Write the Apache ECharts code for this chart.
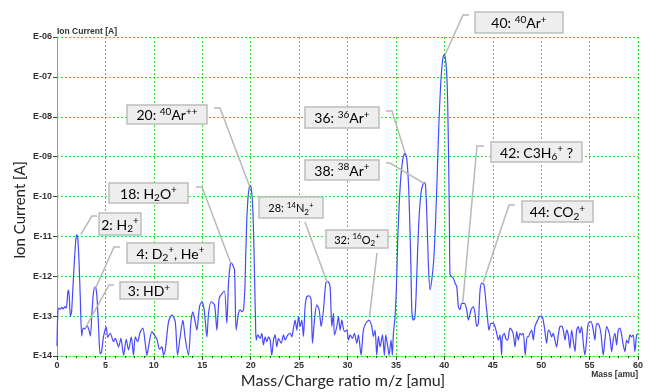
<!DOCTYPE html>
<html><head><meta charset="utf-8">
<script src="https://cdn.jsdelivr.net/npm/echarts@6/dist/echarts.min.js"></script>
<style>html,body{margin:0;padding:0;background:#fff}#c{width:650px;height:392px}</style>
</head><body><div id="c"></div>
<script>
// m/z values [amu]
const mz = [
0.00,0.08,0.2,0.35,0.5,0.65,0.8,0.95,1.05,1.15,1.25,1.38,1.5,1.62,1.75,1.88,1.98,2.06,2.15,2.27,2.4,2.55,2.7,2.85,3.0,3.15,3.3,3.45,3.6,3.75,3.9,4.02,4.15,4.3,4.45,4.6,4.75,4.9,
5.08,5.23,5.5,5.84,6.02,6.36,6.6,6.88,7.15,7.39,7.67,7.9,8.08,8.32,8.6,8.87,9.11,9.29,9.45,9.8,10.04,10.32,10.59,10.84,11.0,11.18,11.52,11.87,12.21,12.45,12.72,13.0,13.24,13.58,13.83,
14.03,14.27,14.45,14.72,14.96,15.2,15.48,15.65,15.92,16.27,16.51,16.75,17.09,17.3,17.54,17.71,17.89,18.0,18.12,18.33,18.5,18.74,18.92,19.09,19.26,19.4,19.5,19.6,19.72,19.85,19.95,
20.05,20.18,20.3,20.4,20.5,20.57,20.74,20.98,21.15,21.32,21.5,21.67,21.84,22.01,22.18,22.36,22.53,22.7,22.87,23.15,23.39,23.56,23.84,24.08,24.25,24.42,24.59,24.77,24.94,
25.11,25.28,25.45,25.62,25.8,26.04,26.24,26.38,26.59,26.83,27.07,27.28,27.52,27.76,27.97,28.2,28.38,28.55,28.65,28.9,29.06,29.24,29.41,29.68,29.93,30.1,30.27,30.51,30.71,30.96,
31.13,31.4,31.64,31.89,32.23,32.51,32.67,32.85,33.02,33.19,33.37,33.61,33.81,33.95,34.16,34.29,34.5,34.63,34.74,34.91,35.05,35.2,35.38,35.55,35.75,35.94,36.12,36.3,36.45,36.55,
36.65,36.8,36.95,37.08,37.25,37.42,37.6,37.78,37.93,38.05,38.2,38.35,38.52,38.7,38.9,39.1,39.3,39.45,39.6,39.75,39.88,39.97,40.08,40.22,40.34,40.45,40.53,40.59,40.93,41.1,
41.28,41.45,41.62,41.8,42.07,42.31,42.48,42.76,42.99,43.17,43.34,43.51,43.68,43.86,44.1,44.27,44.48,44.61,44.82,45.06,45.23,45.41,45.57,45.75,45.92,45.99,46.2,46.34,46.54,46.78,
46.96,47.13,47.3,47.47,47.64,47.81,47.99,48.16,48.35,48.55,48.67,48.84,49.02,49.19,49.36,49.64,49.88,50.11,50.32,50.57,50.74,50.91,51.08,51.25,51.42,51.6,51.77,51.94,52.12,52.28,
52.46,52.63,52.8,52.97,53.15,53.31,53.49,53.66,53.83,54.0,54.18,54.35,54.52,54.69,54.86,55.14,55.38,55.55,55.73,55.97,56.17,56.41,56.58,56.76,56.93,57.1,57.28,57.44,57.62,57.79,
57.96,58.13,58.31,58.47,58.65,58.82,58.99,59.16,59.34,59.51,59.68,59.86,60.0
];
// ion current, as log10 of amperes
const log10Current = [
-13.75,-12.95,-12.8,-12.83,-12.78,-12.82,-12.76,-12.8,-12.6,-12.35,-12.45,-13.0,-12.9,-12.4,-11.8,-11.3,-11.02,-10.96,-11.05,-11.6,-12.5,-13.5,-13.3,-13.32,-13.28,-13.25,-13.35,-13.5,-12.95,-12.45,-12.27,-12.3,-12.6,-13.3,-13.95,-13.9,-13.6,-13.4,
-13.27,-13.53,-13.43,-13.64,-13.56,-13.77,-13.56,-13.98,-13.58,-13.85,-13.52,-13.98,-13.52,-13.64,-13.39,-13.3,-13.68,-13.98,-13.77,-13.39,-13.47,-13.58,-13.83,-13.77,-13.98,-13.85,-13.14,-12.97,-13.14,-13.98,-13.52,-13.1,-13.56,-13.98,-13.14,
-12.89,-13.14,-13.35,-12.76,-12.64,-12.84,-13.52,-12.93,-12.64,-12.72,-13.35,-12.55,-12.42,-12.38,-13.18,-12.17,-11.71,-11.67,-11.7,-11.84,-13.35,-12.93,-12.84,-12.89,-12.84,-12.3,-11.4,-10.6,-10.05,-9.78,-9.72,
-9.78,-10.1,-10.9,-12.0,-13.1,-13.6,-13.47,-13.56,-13.43,-13.72,-13.52,-13.64,-13.52,-13.6,-13.98,-13.6,-13.47,-13.77,-13.56,-13.68,-13.47,-13.6,-13.47,-13.43,-13.52,-13.3,-13.1,-13.35,-13.01,
-13.26,-13.1,-13.51,-12.76,-12.51,-12.49,-12.59,-13.68,-13.1,-12.72,-12.84,-13.26,-12.84,-12.17,-12.13,-12.26,-13.26,-12.93,-13.47,-13.26,-13.01,-13.35,-13.1,-13.39,-13.35,-13.6,-13.47,-13.56,-13.43,-13.68,
-13.47,-13.98,-13.35,-13.18,-13.1,-13.26,-13.51,-13.35,-13.98,-13.51,-13.77,-13.47,-13.98,-13.47,-13.77,-13.98,-13.6,-13.98,-13.43,-13.01,-12.3,-11.0,-10.0,-9.4,-9.02,-8.91,-9.05,-9.7,-10.8,-11.8,
-12.9,-13.1,-13.05,-12.5,-11.3,-10.4,-9.9,-9.7,-9.65,-9.7,-10.5,-11.7,-12.34,-12.1,-11.6,-10.6,-9.2,-8.1,-7.3,-6.75,-6.5,-6.44,-6.5,-6.8,-7.6,-9.2,-10.8,-11.96,-12.05,-12.17,
-12.26,-12.76,-12.84,-12.68,-12.68,-12.84,-13.1,-12.84,-12.76,-12.93,-13.26,-13.18,-12.38,-12.17,-12.22,-12.59,-13.1,-13.35,-13.18,-13.18,-13.26,-13.43,-13.6,-13.47,-13.98,-13.52,-13.43,-13.56,-13.6,-13.3,
-13.35,-13.47,-13.77,-13.39,-13.6,-13.43,-13.47,-13.43,-13.98,-13.52,-13.52,-13.43,-13.35,-13.6,-13.26,-13.1,-13.0,-13.01,-13.26,-13.68,-13.35,-13.39,-13.52,-13.43,-13.6,-13.77,-13.47,-13.26,-13.25,-13.35,
-13.6,-13.35,-13.47,-13.81,-13.35,-13.6,-13.89,-13.35,-13.26,-13.43,-13.26,-13.68,-13.98,-13.6,-13.18,-13.14,-13.35,-13.6,-13.18,-13.22,-13.43,-13.98,-13.6,-13.26,-13.35,-13.52,-13.89,-13.6,-13.43,-13.72,
-13.35,-13.3,-13.47,-13.72,-13.89,-13.6,-13.68,-13.47,-13.52,-13.47,-13.89,-13.47,-13.45
];
const xTickValues = [0,5,10,15,20,25,30,35,40,45,50,55,60];
const yTickLabels = ['E-14','E-13','E-12','E-11','E-10','E-09','E-08','E-07','E-06'];
const halfDecadeLines = [5e-7,5e-8,5e-9,5e-10,5e-11,5e-12,5e-13,5e-14];

// peak annotations: label (rich text) and the peak the leader points to [m/z, log10 current]
const peakLabels = [
  '{n|40: }{p|40}{n|Ar}{p|+}',
  '{n|20: }{p|40}{n|Ar}{p|++}',
  '{n|18: H}{b|2}{n|O}{p|+}',
  '{n|2: H}{b|2}{p|+}',
  '{n|4: D}{b|2}{p|+}{n|, He}{p|+}',
  '{n|3: HD}{p|+}',
  '{s|28: }{q|14}{s|N}{c|2}{q|+}',
  '{s|32: }{q|16}{s|O}{c|2}{q|+}',
  '{n|36: }{p|36}{n|Ar}{p|+}',
  '{n|38: }{p|38}{n|Ar}{p|+}',
  '{n|42: C3H}{b|6}{p|+}{n| ?}',
  '{n|44: CO}{b|2}{p|+}'
];
const peakTargets = [
  [40.07,-6.45],[19.9,-9.75],[17.96,-11.68],[2.45,-10.95],[3.98,-12.3],[2.92,-13.3],
  [27.9,-12.15],[32.26,-13.03],[35.94,-8.9],[37.9,-9.67],[41.9,-12.66],[44.02,-12.15]
];
// layout of label boxes (pixels): [x, y, w, h], leader start, leader elbow
const boxLayout = [
  [[475,12,88,21],[469,15],[463,15]],
  [[127,105,80,19],[214,108],[220,108]],
  [[109,183,79,20],[196,187],[202,187]],
  [[99,213,42,22],[97,216],[92,216]],
  [[127,243,87,20],[120,247],[114,247]],
  [[120,282,58,17],[114,285],[109,285]],
  [[259,197,64,21],[305,222],[305,222]],
  [[326,230,62,18],[377,253],[377,253]],
  [[305,107,74,21],[386,111],[392,111]],
  [[305,160,74,20],[386,163],[390,163]],
  [[491,142,91,20],[484,146],[477,146]],
  [[522,201,71,21],[515,205],[509,205]]
];

const GREEN = '#2ee62e';
const chart = echarts.init(document.getElementById('c'), null, {renderer:'canvas'});
const seriesData = mz.map((m,i)=>[m, Math.pow(10, log10Current[i])]);
const tickFont = {fontFamily:'Liberation Sans', fontWeight:'bold', fontSize:9, color:'#333'};

chart.setOption({
  animation:false,
  grid:{left:57,right:12,top:37,bottom:36},
  xAxis:{type:'value',min:0,max:60,interval:5,
    axisLine:{show:true,onZero:false,lineStyle:{color:GREEN,type:[2,2],width:1}},
    axisTick:{show:true,length:4,inside:false,lineStyle:{color:'#444'}},
    minorTick:{show:true,splitNumber:5,length:2,lineStyle:{color:'#444'}},
    axisLabel:Object.assign({margin:5,formatter:v=>xTickValues.indexOf(v)>=0?String(v):''},tickFont),
    splitLine:{show:true,lineStyle:{color:GREEN,type:[2,2],width:1}}
  },
  yAxis:{type:'log',logBase:10,min:1e-14,max:1e-6,
    axisLine:{show:true,lineStyle:{color:GREEN,width:1}},
    axisTick:{show:true,length:4,lineStyle:{color:'#444'}},
    axisLabel:Object.assign({margin:5,formatter:v=>{const e=Math.round(Math.log10(v));return yTickLabels[e+14]||'';}},tickFont),
    splitLine:{show:true,lineStyle:{color:GREEN,type:[2,2],width:1}}
  },
  series:[{
    type:'line',data:seriesData,showSymbol:false,smooth:0.25,
    lineStyle:{color:'#4848ff',width:1.2},
    markLine:{silent:true,symbol:['none','none'],label:{show:false},animation:false,
      lineStyle:{color:GREEN,type:[2,2],width:1},
      data:halfDecadeLines.map(v=>({yAxis:v}))}
  }]
});

const rich = {
  n:{fontSize:14,fontFamily:'Lato',color:'#1a1a1a',lineHeight:18},
  p:{fontSize:10,fontFamily:'Lato',color:'#1a1a1a',verticalAlign:'top'},
  b:{fontSize:10,fontFamily:'Lato',color:'#1a1a1a',verticalAlign:'bottom'},
  s:{fontSize:11,fontFamily:'Lato',color:'#1a1a1a',lineHeight:15},
  q:{fontSize:8,fontFamily:'Lato',color:'#1a1a1a',verticalAlign:'top'},
  c:{fontSize:8,fontFamily:'Lato',color:'#1a1a1a',verticalAlign:'bottom'}
};
const graphics = [];
peakLabels.forEach((lab,i)=>{
  const [r,st,el] = boxLayout[i];
  const t = peakTargets[i];
  const end = chart.convertToPixel({xAxisIndex:0,yAxisIndex:0},[t[0],Math.pow(10,t[1])]);
  graphics.push({type:'polyline',shape:{points:[st,el,end]},style:{stroke:'#b8b8b8',lineWidth:1.5,fill:null},z:10});
  graphics.push({type:'rect',shape:{x:r[0],y:r[1],width:r[2],height:r[3]},style:{fill:'#eeeeee',stroke:'#bdbdbd',lineWidth:1.5},z:11});
  graphics.push({type:'text',x:r[0]+r[2]/2,y:r[1]+r[3]/2+1,style:{text:lab,rich:rich,align:'center',verticalAlign:'middle'},z:12});
});
graphics.push({type:'text',x:57,y:27,style:{text:'Ion Current [A]',fontFamily:'Liberation Sans',fontWeight:'bold',fontSize:8.5,fill:'#333',align:'left',verticalAlign:'top'}});
graphics.push({type:'text',x:638,y:370,style:{text:'Mass [amu]',fontFamily:'Liberation Sans',fontWeight:'bold',fontSize:8.5,fill:'#333',align:'right',verticalAlign:'top'}});
graphics.push({type:'text',x:343,y:381,style:{text:'Mass/Charge ratio m/z [amu]',fontFamily:'Lato',fontSize:16,fill:'#262626',align:'center',verticalAlign:'middle'}});
graphics.push({type:'text',x:20,y:210,rotation:Math.PI/2,style:{text:'Ion Current [A]',fontFamily:'Lato',fontSize:15,fill:'#262626',align:'center',verticalAlign:'middle'}});
chart.setOption({graphic:graphics});
</script>
</body></html>
